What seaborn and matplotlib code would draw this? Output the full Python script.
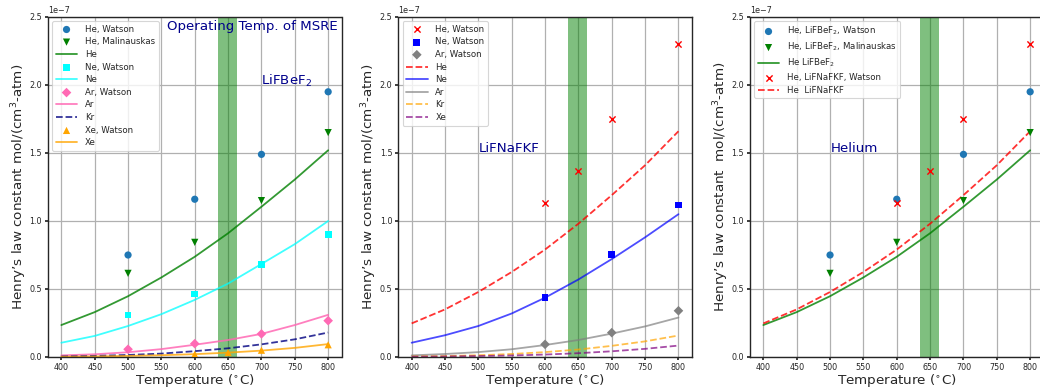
import numpy as np
import matplotlib
matplotlib.use("Agg")
import matplotlib.pyplot as plt
import seaborn as sns

# ---------------- data (values in units of 1e-7) ----------------
T_fit = [400, 450, 500, 550, 600, 650, 700, 750, 800]

# LiFBeF2 fitted curves
bef_he_fit = [0.235, 0.33, 0.447, 0.585, 0.737, 0.91, 1.105, 1.305, 1.52]
bef_ne_fit = [0.105, 0.155, 0.228, 0.315, 0.42, 0.54, 0.684, 0.83, 1.0]
bef_ar_fit = [0.012, 0.02, 0.035, 0.058, 0.09, 0.125, 0.17, 0.235, 0.31]
bef_kr_fit = [0.004, 0.008, 0.015, 0.025, 0.043, 0.064, 0.093, 0.13, 0.18]
bef_xe_fit = [0.002, 0.004, 0.008, 0.013, 0.021, 0.032, 0.047, 0.067, 0.095]

# LiFBeF2 measurements
T_he_bef = [500, 600, 700, 800]
bef_he_watson = [0.75, 1.16, 1.49, 1.95]
bef_he_malin = [0.615, 0.843, 1.15, 1.65]
T_ne_bef = [500, 600, 700, 800]
bef_ne_watson = [0.309, 0.463, 0.68, 0.90]
T_ar_bef = [500, 600, 700, 800]
bef_ar_watson = [0.057, 0.098, 0.17, 0.267]
T_xe_bef = [600, 650, 700, 800]
bef_xe_watson = [0.02, 0.033, 0.05, 0.09]

# LiFNaFKF fitted curves
naf_he_fit = [0.247, 0.35, 0.478, 0.625, 0.79, 0.98, 1.19, 1.41, 1.66]
naf_ne_fit = [0.105, 0.16, 0.228, 0.32, 0.436, 0.57, 0.72, 0.88, 1.05]
naf_ar_fit = [0.012, 0.022, 0.036, 0.057, 0.088, 0.125, 0.172, 0.225, 0.29]
naf_kr_fit = [0.004, 0.007, 0.013, 0.022, 0.036, 0.055, 0.082, 0.115, 0.158]
naf_xe_fit = [0.002, 0.004, 0.007, 0.011, 0.018, 0.028, 0.042, 0.06, 0.084]

# LiFNaFKF measurements
T_he_naf = [600, 650, 700, 800]
naf_he_watson = [1.13, 1.37, 1.752, 2.30]
T_ne_naf = [600, 700, 800]
naf_ne_watson = [0.439, 0.755, 1.118]
T_ar_naf = [600, 700, 800]
naf_ar_watson = [0.093, 0.179, 0.34]

msre_band = (635, 663)
SCALE = 1e-7

def sc(v):
    return np.asarray(v) * SCALE

# ---------------- style ----------------
sns.set_theme(style="ticks", rc={
    "axes.grid": True,
    "grid.color": "#b0b0b0",
    "grid.linewidth": 0.9,
    "axes.edgecolor": "0.15",
    "axes.linewidth": 1.0,
    "xtick.labelsize": 5.8,
    "ytick.labelsize": 5.8,
    "xtick.major.size": 2.5,
    "ytick.major.size": 2.5,
    "axes.labelsize": 9.7,
    "legend.fontsize": 6.2,
})
plt.rcParams["font.family"] = ["DejaVu Sans"]

fig = plt.figure(figsize=(10.4, 3.88), dpi=100)
W, H = 1040.0, 388.0
lefts = [48, 398.3, 750]
axes = [fig.add_axes([l / W, (H - 357) / H, 293.5 / W, 340 / H]) for l in lefts]

def scatter(ax, x, y, marker, color, label, s=27):
    kw = dict(linewidth=0) if marker not in ("x",) else dict(linewidth=1.0)
    sns.scatterplot(x=x, y=sc(y), ax=ax, marker=marker, color=color, s=s,
                    label=label, edgecolor=color if marker == "x" else "none",
                    zorder=3, legend=False, **kw)

def line(ax, y, color, label, ls="-", alpha=0.85):
    sns.lineplot(x=T_fit, y=sc(y), ax=ax, color=color, linestyle=ls,
                 label=label, linewidth=1.3, alpha=alpha, legend=False,
                 errorbar=None, zorder=2)

# ---------------- panel 1: LiFBeF2 ----------------
ax = axes[0]
ax.axvspan(*msre_band, color="green", alpha=0.5, linewidth=0, zorder=1)
scatter(ax, T_he_bef, bef_he_watson, "o", "tab:blue", "He, Watson")
scatter(ax, T_he_bef, bef_he_malin, "v", "green", "He, Malinauskas")
line(ax, bef_he_fit, "green", "He", alpha=0.8)
scatter(ax, T_ne_bef, bef_ne_watson, "s", "cyan", "Ne, Watson", s=24)
line(ax, bef_ne_fit, "cyan", "Ne", alpha=0.75)
scatter(ax, T_ar_bef, bef_ar_watson, "D", "hotpink", "Ar, Watson", s=24)
line(ax, bef_ar_fit, "hotpink", "Ar", alpha=0.85)
line(ax, bef_kr_fit, "navy", "Kr", ls="--", alpha=0.8)
scatter(ax, T_xe_bef, bef_xe_watson, "^", "orange", "Xe, Watson")
line(ax, bef_xe_fit, "orange", "Xe", alpha=0.8)
ax.text(559, 2.43 * SCALE, "Operating Temp. of MSRE", color="darkblue",
        fontsize=9.6, va="center", ha="left")
ax.text(700, 2.03 * SCALE, "LiFBeF$_2$", color="darkblue", fontsize=9.6,
        va="center", ha="left")

# ---------------- panel 2: LiFNaFKF ----------------
ax = axes[1]
ax.axvspan(*msre_band, color="green", alpha=0.5, linewidth=0, zorder=1)
scatter(ax, T_he_naf, naf_he_watson, "x", "red", "He, Watson", s=20)
scatter(ax, T_ne_naf, naf_ne_watson, "s", "blue", "Ne, Watson", s=24)
scatter(ax, T_ar_naf, naf_ar_watson, "D", "gray", "Ar, Watson", s=24)
line(ax, naf_he_fit, "red", "He", ls="--", alpha=0.8)
line(ax, naf_ne_fit, "blue", "Ne", alpha=0.7)
line(ax, naf_ar_fit, "gray", "Ar", alpha=0.7)
line(ax, naf_kr_fit, "orange", "Kr", ls="--", alpha=0.7)
line(ax, naf_xe_fit, "purple", "Xe", ls="--", alpha=0.7)
ax.text(501, 1.53 * SCALE, "LiFNaFKF", color="darkblue", fontsize=9.6,
        va="center", ha="left")

# ---------------- panel 3: Helium ----------------
ax = axes[2]
ax.axvspan(*msre_band, color="green", alpha=0.5, linewidth=0, zorder=1)
scatter(ax, T_he_bef, bef_he_watson, "o", "tab:blue", "He, LiFBeF$_2$, Watson")
scatter(ax, T_he_bef, bef_he_malin, "v", "green", "He, LiFBeF$_2$, Malinauskas")
line(ax, bef_he_fit, "green", "He LiFBeF$_2$", alpha=0.8)
scatter(ax, T_he_naf, naf_he_watson, "x", "red", "He, LiFNaFKF, Watson", s=20)
line(ax, naf_he_fit, "red", "He  LiFNaFKF", ls="--", alpha=0.8)
ax.text(501, 1.53 * SCALE, "Helium", color="darkblue", fontsize=9.6,
        va="center", ha="left")

ylabels = ["Henry\u2019s law constant mol/(cm$^3$-atm)",
           "Henry\u2019s law constant mol/(cm$^3$-atm)",
           "Henry\u2019s law constant  mol/(cm$^3$-atm)"]
for ax, yl in zip(axes, ylabels):
    ax.set_xlim(380, 820)
    ax.set_ylim(0, 2.5 * SCALE)
    ax.set_xticks(np.arange(400, 801, 50))
    ax.set_yticks(np.arange(0, 2.51, 0.5) * SCALE)
    ax.set_xlabel("Temperature ($^{\\circ}$C)", labelpad=0)
    ax.set_ylabel(yl, labelpad=0.5)
    ax.ticklabel_format(axis="y", style="sci", scilimits=(0, 0))
    ax.yaxis.get_offset_text().set_fontsize(5.8)
    ax.tick_params(pad=1.8)
    leg = ax.legend(loc="upper left", frameon=True, framealpha=0.8,
                    borderaxespad=0.5, handlelength=2.5, handletextpad=0.9,
                    labelspacing=0.42)
    leg.get_frame().set_linewidth(0.8)

fig.savefig("out.png", dpi=100)
